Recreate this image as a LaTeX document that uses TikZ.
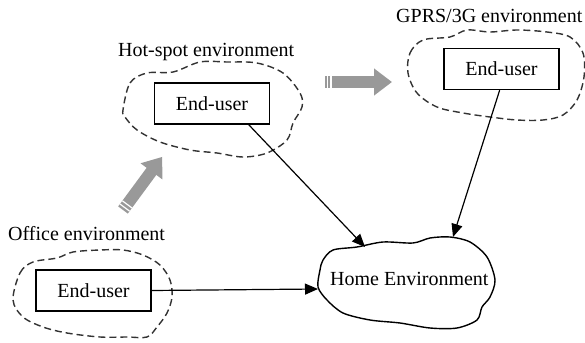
\documentclass[tikz,border=0pt]{standalone}
\usepackage{fontspec}
\setmainfont{Liberation Serif}
\usetikzlibrary{arrows.meta}
\tikzset{
  userbox/.style={draw, line width=1.4pt, minimum width=115pt, minimum height=41pt, inner sep=0pt},
  envblob/.style={draw=black!80, line width=1.4pt, dash pattern=on 7pt off 4pt},
  envlabel/.style={anchor=base west, inner sep=0pt},
  link/.style={line width=1.2pt, -{Triangle[length=13pt,width=11pt]}},
  bigarrow/.style={line width=12pt, black!40, -{Triangle[length=18pt,width=26pt]}},
  stripe/.style={white, line width=1.2pt}
}
\begin{document}
\begin{tikzpicture}[x=1pt, y=-1pt, font=\fontsize{20}{24}\selectfont]
    \useasboundingbox (0,0) rectangle (585,342);

    % environments
    \draw [envblob] plot [smooth cycle, tension=0.55] coordinates {(13,300) (20,273) (33,262) (57,258) (73,252) (100,250) (123,250) (143,255) (160,265) (170,280) (172,297) (167,313) (157,327) (147,337) (127,337) (100,337) (67,333) (43,327) (23,317)};
    \draw [envblob] plot [smooth cycle, tension=0.55] coordinates {(123,110) (130,83) (147,73) (173,72) (200,62) (227,62) (257,63) (283,73) (300,93) (302,107) (293,123) (287,140) (267,153) (243,157) (217,153) (190,150) (160,142) (137,130) (125,117)};
    \draw [envblob] plot [smooth cycle, tension=0.55] coordinates {(408,73) (410,53) (423,40) (450,37) (467,30) (490,32) (517,30) (547,32) (570,37) (583,53) (584,77) (577,100) (563,115) (543,120) (517,120) (490,117) (463,113) (437,107) (417,93)};
    \draw [line width=1.4pt] plot [smooth cycle, tension=0.5] coordinates {(320,270) (323,260) (333,250) (357,247) (383,242) (413,243) (430,238) (450,237) (470,242) (487,257) (495,280) (490,297) (482,307) (477,320) (457,328) (430,328) (400,323) (370,320) (343,313) (327,300) (318,287)};

    \node [envlabel] (officelabel) at (8,240) {Office environment};
    \node [envlabel] (hotlabel) at (118,57) {Hot-spot environment};
    \node [envlabel] (gprslabel) at (396,23) {GPRS/3G environment};
    \node [envlabel] (home) at (330,285) {Home Environment};

    \node [userbox] (office) at (93.5,290.5) {End-user};
    \node [userbox] (hot) at (212,103.5) {End-user};
    \node [userbox] (gprs) at (501.5,69) {End-user};

    \coordinate (otip) at (318,289);
    \coordinate (htip) at (365,247);
    \coordinate (gtip) at (453,237);

    \draw [link] (office.east) -- (otip);
    \draw [link] (hot.-30) -- (htip);
    \draw [link] (gprs.-95) -- (gtip);

    % moves
    \begin{scope}[shift={(123,210)}, rotate=53.6]
        \draw [bigarrow] (0,0) -- (66,0);
        \draw [stripe] (3,-6) -- (3,6);
        \draw [stripe] (7,-6) -- (7,6);
    \end{scope}
    \draw [bigarrow] (325,82) -- (392,82);
    \draw [stripe] (327.5,76) -- (327.5,88);
    \draw [stripe] (331,76) -- (331,88);
\end{tikzpicture}
\end{document}
